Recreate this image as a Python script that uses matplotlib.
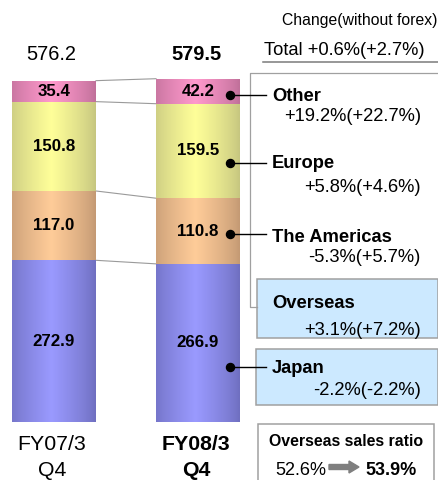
import numpy as np
import matplotlib.pyplot as plt
from matplotlib.colors import to_rgb
from matplotlib.patches import Rectangle, FancyArrow

plt.rcParams['font.family'] = ['Liberation Sans', 'DejaVu Sans']

# data
periods = ["FY07/3\nQ4", "FY08/3\nQ4"]
segments = ["Japan", "The Americas", "Europe", "Other"]
fy07 = [272.9, 117.0, 150.8, 35.4]
fy08 = [266.9, 110.8, 159.5, 42.2]
totals = [576.2, 579.5]
seg_change = ["-2.2%(-2.2%)", "-5.3%(+5.7%)", "+5.8%(+4.6%)", "+19.2%(+22.7%)"]
overseas_change = "+3.1%(+7.2%)"
total_change = "+0.6%(+2.7%)"
overseas_ratio = [52.6, 53.9]

# bar gradient colours (edge, centre)
seg_colors = [("#6f6fc0", "#9a9aff"), ("#c49a74", "#ffcc99"),
              ("#c6c680", "#ffff99"), ("#c0709a", "#ff99cc")]

W, H = 439, 480
fig = plt.figure(figsize=(W / 100, H / 100), dpi=100)

# main axes: x in pixels, y in data units (0 at pixel 422)
scale = 0.5925
base = 422
ax = fig.add_axes([0, 0, 1, 1])
ax.set_xlim(0, W)
ax.set_ylim(-(H - base) / scale, base / scale)
ax.axis("off")

# overlay axes in pixel coordinates for annotations
ov = fig.add_axes([0, 0, 1, 1], zorder=5)
ov.set_xlim(0, W)
ov.set_ylim(H, 0)
ov.axis("off")
ov.patch.set_alpha(0)

xpos = [54, 198]
bw = 84


def gradient(c_edge, c_mid, n=64):
    e = np.array(to_rgb(c_edge))
    m = np.array(to_rgb(c_mid))
    t = np.linspace(0, 1, n)
    w = np.clip(1 - np.abs(t - 0.47) / 0.53, 0, 1) ** 0.8
    return (e[None, :] * (1 - w[:, None]) + m[None, :] * w[:, None])[None, :, :]


for i, vals in enumerate([fy07, fy08]):
    bottoms = np.concatenate([[0], np.cumsum(vals)[:-1]])
    bars = ax.bar([xpos[i]] * len(vals), vals, bottom=bottoms, width=bw,
                  color="none", edgecolor="none")
    for j, p in enumerate(bars.patches):
        x0, y0 = p.get_x(), p.get_y()
        im = ax.imshow(gradient(*seg_colors[j]), aspect="auto",
                       extent=[x0, x0 + p.get_width(), y0, y0 + p.get_height()],
                       interpolation="bilinear", zorder=2)
        im.set_clip_path(p)
        ax.text(xpos[i], y0 + vals[j] / 2, f"{vals[j]:.1f}", ha="center",
                va="center", fontsize=12.2, fontweight="bold", zorder=3)

# connector lines between the two bars
c07 = np.cumsum(fy07)
c08 = np.cumsum(fy08)
for a, b in zip(c07, c08):
    ax.plot([xpos[0] + bw / 2, xpos[1] - bw / 2], [a, b], color="#9a9a9a",
            lw=0.8, zorder=1)

# totals and period labels
ov.text(51, 60, f"{totals[0]:.1f}", ha="center", va="baseline", fontsize=14.4)
ov.text(196, 60, f"{totals[1]:.1f}", ha="center", va="baseline", fontsize=14.4,
        fontweight="bold")
for k, (x, wt) in enumerate([(52, "normal"), (196, "bold")]):
    l1, l2 = periods[k].split("\n")
    ov.text(x, 450, l1, ha="center", va="baseline", fontsize=15.3, fontweight=wt)
    ov.text(x, 476, l2, ha="center", va="baseline", fontsize=15.3, fontweight=wt)

# header texts
ov.text(437, 25, "Change(without forex)", ha="right", va="baseline", fontsize=11.3)
ov.text(264, 55, "Total " + total_change, ha="left", va="baseline", fontsize=13.2)
ov.plot([263, 439], [62, 62], color="#7a7a7a", lw=1.1)

# bracket frame
ov.plot([439, 250, 250, 257], [73, 73, 307, 307], color="#a0a0a0", lw=0.9)

# overseas / japan boxes
ov.add_patch(Rectangle((257, 279), 181, 59, facecolor="#cce9ff",
                       edgecolor="#a0a0a0", lw=1.1))
ov.add_patch(Rectangle((256, 349), 182, 56, facecolor="#cce9ff",
                       edgecolor="#a0a0a0", lw=1.1))

# segment labels: (name y-baseline, change baseline, dot y)
lab_pos = {"Other": (101, 121, 95), "Europe": (168, 192, 163),
           "The Americas": (242, 262, 234), "Japan": (373, 395, 367)}
for j, name in enumerate(segments):
    yb, yc, yd = lab_pos[name]
    ov.text(272, yb, name, ha="left", va="baseline", fontsize=13.2,
            fontweight="bold")
    ov.text(421, yc, seg_change[j], ha="right", va="baseline", fontsize=13.2)
    ov.plot([230, 266], [yd, yd], color="black", lw=1)
    ov.plot(230, yd, "o", color="black", markersize=5.8)

ov.text(272, 308, "Overseas", ha="left", va="baseline", fontsize=13.2,
        fontweight="bold")
ov.text(421, 335, overseas_change, ha="right", va="baseline", fontsize=13.2)

# overseas sales ratio box
ov.add_patch(Rectangle((258, 424), 176, 60, facecolor="white",
                       edgecolor="#a0a0a0", lw=1.1))
ov.text(346, 446, "Overseas sales ratio", ha="center", va="baseline",
        fontsize=11.4, fontweight="bold")
ov.text(275, 475, f"{overseas_ratio[0]:.1f}%", ha="left", va="baseline",
        fontsize=13)
ov.add_patch(FancyArrow(329, 467, 20, 0, width=5, head_width=12,
                        head_length=10, length_includes_head=False,
                        color="#7f7f7f"))
ov.text(365, 475, f"{overseas_ratio[1]:.1f}%", ha="left", va="baseline",
        fontsize=13, fontweight="bold")

fig.savefig("out.png", dpi=100)
